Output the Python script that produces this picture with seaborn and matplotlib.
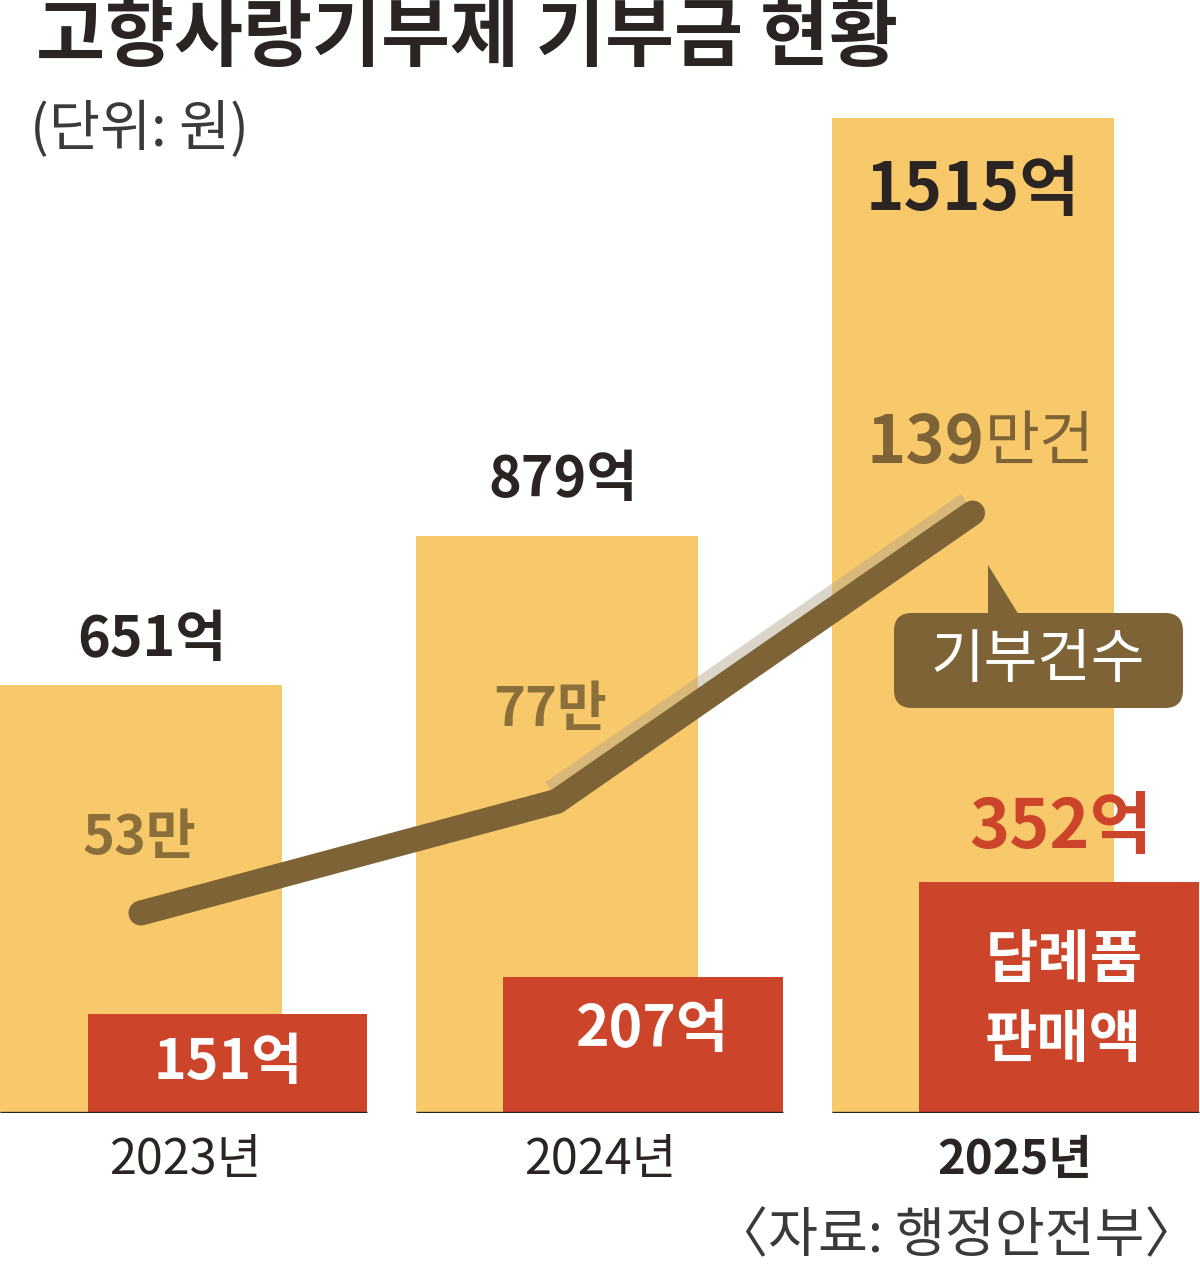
import numpy as np
import pandas as pd
import matplotlib
matplotlib.use('Agg')
import matplotlib.pyplot as plt
import matplotlib.transforms as mtransforms
from matplotlib.patches import FancyBboxPatch, Polygon
import seaborn as sns

# data
years = [2023, 2024, 2025]
year_labels = ['2023년', '2024년', '2025년']
donations = [651, 879, 1515]        # 기부금 (억 원)
gift_sales = [151, 207, 352]        # 답례품 판매액 (억 원)
counts = [53, 77, 139]              # 기부건수 (만 건)

YELLOW = '#F8C96B'
RED = '#CC452A'
BROWN = '#7D6336'
DARK = '#2A2522'

sns.set_theme(style='white')
plt.rcParams['font.family'] = ['Noto Sans CJK KR', 'DejaVu Sans']

fig = plt.figure(figsize=(12, 12.64), dpi=100)
ax = fig.add_axes([0, 0.11946, 1, 0.80142])

df = pd.DataFrame({'year': years, 'donation': donations, 'gift': gift_sales,
                   'count': counts})
df['gift_x'] = df['year'] + 0.208

sns.barplot(data=df, x='year', y='donation', native_scale=True, width=0.678,
            color=YELLOW, saturation=1, linewidth=0, ax=ax, zorder=1)
sns.barplot(data=df, x='gift_x', y='gift', native_scale=True, width=0.673,
            color=RED, saturation=1, linewidth=0, ax=ax, zorder=2)

# baseline under each group
ax.hlines(np.zeros(len(df)), (df['year'] - 0.678 / 2).to_numpy(),
          (df['gift_x'] + 0.673 / 2).to_numpy(),
          color='#2a1f1a', lw=2.4, zorder=3)

ax.set_xlim(2022.661, 2025.547)
ax.set_ylim(0, 1542)
ax.axis('off')

# count line on its own scale
ax2 = ax.twinx()
ghost = mtransforms.offset_copy(ax2.transData, fig=fig, x=-6, y=11, units='dots')
ax2.plot(df['year'][1:], df['count'][1:], color='#B3A48A', lw=14, alpha=0.45,
         solid_capstyle='butt', transform=ghost, zorder=4)
sns.lineplot(data=df, x='year', y='count', color=BROWN, lw=18, ax=ax2,
             solid_capstyle='round', solid_joinstyle='round', zorder=5)
ax2.set_xlim(2022.661, 2025.547)
ax2.set_ylim(10.0, 227.8)
ax2.axis('off')

# pixel-space transform (reference image coords, y down)
T = (mtransforms.Affine2D().scale(1, -1).translate(0, 1264)
     + mtransforms.Affine2D().scale(1 / 1200, 1 / 1264) + fig.transFigure)

def label(x, y, s, **kw):
    kw.setdefault('ha', 'center')
    kw.setdefault('va', 'center')
    fig.text(x, y, s, transform=T, **kw)

# title
label(36, 38, '고향사랑기부제 기부금 현황', ha='left', fontsize=54,
      fontweight='bold', color=DARK)
label(30, 130, '(단위: 원)', ha='left', fontsize=40, color='#3a3a3a')

# donation labels
label(152, 640, f'{donations[0]}억', fontsize=40, fontweight='bold', color=DARK)
label(563, 480, f'{donations[1]}억', fontsize=40, fontweight='bold', color=DARK)
label(973, 190, f'{donations[2]}억', fontsize=47, fontweight='bold', color=DARK)

# count labels
label(139, 838, f'{counts[0]}만', fontsize=39, fontweight='bold', color='#8B6F3A')
label(550, 710, f'{counts[1]}만', fontsize=39, fontweight='bold', color='#8B6F3A')
label(985, 443, f'{counts[2]}', ha='right', fontsize=48, fontweight='bold',
      color=BROWN)
label(985, 443, '만건', ha='left', fontsize=43, color=BROWN)

# gift sales labels
label(228, 1063, f'{gift_sales[0]}억', fontsize=40, fontweight='bold', color='white')
label(653, 1030, f'{gift_sales[1]}억', fontsize=41, fontweight='bold', color='white')
label(1061, 828, f'{gift_sales[2]}억', fontsize=49, fontweight='bold', color=RED)
label(1064, 960, '답례품', fontsize=41, fontweight='bold', color='white')
label(1064, 1040, '판매액', fontsize=41, fontweight='bold', color='white')

# callout for the line
fig.patches.append(Polygon([(988, 565), (988, 620), (1022, 620)], closed=True,
                           transform=T, facecolor=BROWN, edgecolor='none'))
fig.patches.append(FancyBboxPatch((894, 613), 289, 95,
                                  boxstyle='round,pad=0,rounding_size=18',
                                  transform=T, facecolor=BROWN,
                                  edgecolor='none'))
label(1038, 660, '기부건수', fontsize=42, color='white')

# year labels
label(185, 1160, year_labels[0], fontsize=35, color=DARK)
label(600, 1160, year_labels[1], fontsize=35, color=DARK)
label(1015, 1160, year_labels[2], fontsize=34, fontweight='bold', color=DARK)

label(1199, 1237, '〈자료: 행정안전부〉', ha='right', fontsize=39, color='#3a3a3a')

fig.savefig('out.png', dpi=100, facecolor='white')
